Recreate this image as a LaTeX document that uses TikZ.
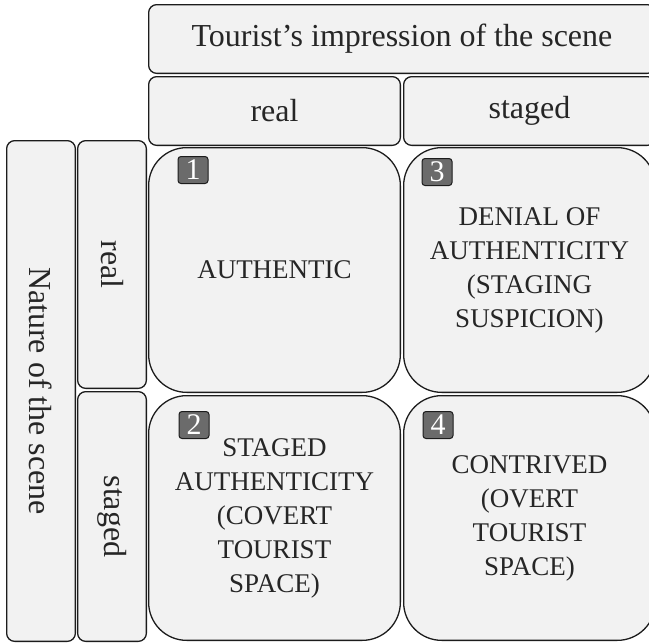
\documentclass[tikz,border=0pt]{standalone}
\usepackage{fontspec}
\setmainfont{Liberation Serif}
\definecolor{cellfill}{HTML}{F2F2F2}
\definecolor{edge}{HTML}{1C1C1C}
\definecolor{ink}{HTML}{262626}
\definecolor{badgefill}{HTML}{6B6B6B}
\begin{document}
\begin{tikzpicture}[x=1pt,y=-1pt,
  cell/.style={draw=edge, fill=cellfill, line width=1.3pt, rounded corners=8pt,
    inner sep=0pt, text=ink, font=\fontsize{32}{38}\selectfont},
  quad/.style={draw=edge, fill=cellfill, line width=1.3pt, rounded corners=38pt,
    inner sep=0pt, minimum width=251.7pt, minimum height=244.7pt, text=ink,
    align=center, font=\fontsize{27}{34}\selectfont},
  badge/.style={draw=edge, fill=badgefill, line width=1pt, rounded corners=3pt,
    minimum width=30pt, minimum height=27pt, inner sep=0pt, text=white,
    font=\fontsize{30}{30}\selectfont}
]
\useasboundingbox (0,0) rectangle (649,643);
\fill[white] (0,0) rectangle (649,643);
\clip (0,0) rectangle (649,643);

% column headers
\node[cell, minimum width=506.7pt, minimum height=68.7pt] (impr) at (402,39)
  {Tourist’s impression of the scene};
\node[cell, minimum width=251.7pt, minimum height=68.7pt] (colreal) at (274.5,111) {real};
\node[cell, minimum width=251.7pt, minimum height=68.7pt] (colstaged) at (529.5,111) {staged};

% row headers (vertical)
\node[cell, rotate=-90, minimum width=500.7pt, minimum height=68.7pt] (nature) at (41,391)
  {Nature of the scene};
\node[cell, rotate=-90, minimum width=247.7pt, minimum height=68.7pt] (rowreal) at (112,264.5) {real};
\node[cell, rotate=-90, minimum width=249.7pt, minimum height=68.7pt] (rowstaged) at (112,516.5) {staged};

% quadrants
\node[quad] (q1) at (274.5,270) {AUTHENTIC};
\node[quad] (q3) at (529.5,270) {DENIAL OF\\AUTHENTICITY\\(STAGING\\SUSPICION)};
\node[quad] (q2) at (274.5,518) {STAGED\\AUTHENTICITY\\(COVERT\\TOURIST\\SPACE)};
\node[quad] (q4) at (529.5,518) {CONTRIVED\\(OVERT\\TOURIST\\SPACE)};

% numbered badges
\node[badge] (b1) at (193,170) {1};
\node[badge] (b3) at (437,172) {3};
\node[badge] (b2) at (194,425) {2};
\node[badge] (b4) at (438,425) {4};
\end{tikzpicture}
\end{document}
